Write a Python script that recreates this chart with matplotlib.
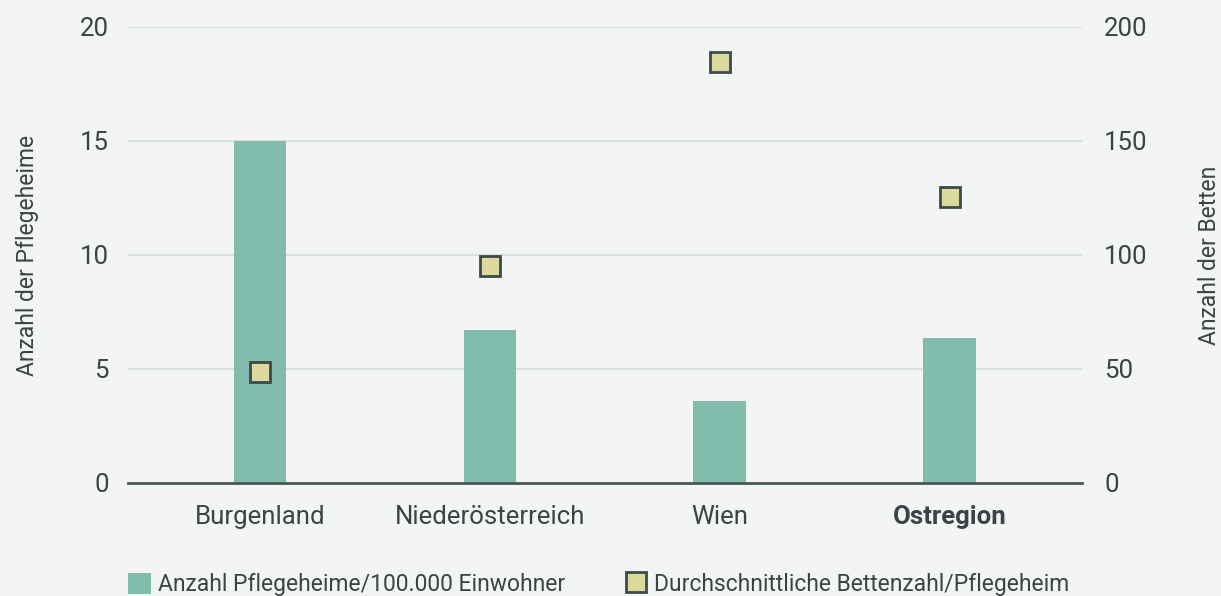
import numpy as np
import matplotlib.pyplot as plt
from matplotlib.lines import Line2D
from matplotlib.patches import Patch

regionen = ['Burgenland', 'Niederösterreich', 'Wien', 'Ostregion']
heime_pro_100k = [15.0, 6.7, 3.6, 6.35]
betten_pro_heim = [48.5, 95.0, 184.5, 125.5]

bg = '#f3f5f4'
txt = '#3a4446'
bar_col = '#82bcad'
mark_col = '#dcd99c'
edge_col = '#3d4a48'

plt.rcParams['font.family'] = ['Roboto', 'DejaVu Sans']

fig = plt.figure(figsize=(12.21, 5.96), dpi=100, facecolor=bg)
ax = fig.add_axes([0.1048, 0.1896, 0.7813, 0.7651], facecolor=bg)
ax2 = ax.twinx()

x = np.arange(len(regionen))
ax.bar(x, heime_pro_100k, width=0.23, color=bar_col, zorder=2)
ax2.plot(x, betten_pro_heim, linestyle='none', marker='s', markersize=15,
         markerfacecolor=mark_col, markeredgecolor=edge_col, markeredgewidth=2, zorder=3)

ax.set_xlim(-0.574, 3.574)
ax.set_ylim(0, 20)
ax2.set_ylim(0, 200)
ax.set_yticks([0, 5, 10, 15, 20])
ax2.set_yticks([0, 50, 100, 150, 200])
ax.yaxis.grid(True, color='#d3dbdb', linewidth=1.2, zorder=0)
ax.set_axisbelow(True)

for a in (ax, ax2):
    for s in a.spines.values():
        s.set_visible(False)
    a.tick_params(length=0, labelsize=18.5, colors=txt)
ax.spines['bottom'].set_visible(True)
ax.spines['bottom'].set_color('#4a5858')
ax.spines['bottom'].set_linewidth(2)
ax.spines['bottom'].set_zorder(4)

ax.tick_params(axis='y', pad=14)
ax2.tick_params(axis='y', pad=16)
ax.set_xticks(x)
ax.set_xticklabels(regionen)
ax.tick_params(axis='x', pad=16)
ax.get_xticklabels()[-1].set_fontweight('bold')

ax.set_ylabel('Anzahl der Pflegeheime', fontsize=16.5, color=txt)
ax.yaxis.set_label_coords(-0.093, 0.5)
ax2.set_ylabel('Anzahl der Betten', fontsize=16.5, color=txt)
ax2.yaxis.set_label_coords(1.122, 0.5)

handles = [Patch(facecolor=bar_col, edgecolor='none'),
           Line2D([], [], linestyle='none', marker='s', markersize=15,
                  markerfacecolor=mark_col, markeredgecolor=edge_col, markeredgewidth=2)]
labels = ['Anzahl Pflegeheime/100.000 Einwohner', 'Durchschnittliche Bettenzahl/Pflegeheim']
fig.legend(handles, labels, loc='lower left', bbox_to_anchor=(0.088, -0.035), ncol=2,
           frameon=False, fontsize=16.5, labelcolor=txt, handlelength=1.0, handleheight=1.0,
           handletextpad=0.3, columnspacing=2.6)

fig.savefig('out.png', dpi=100, facecolor=bg)
